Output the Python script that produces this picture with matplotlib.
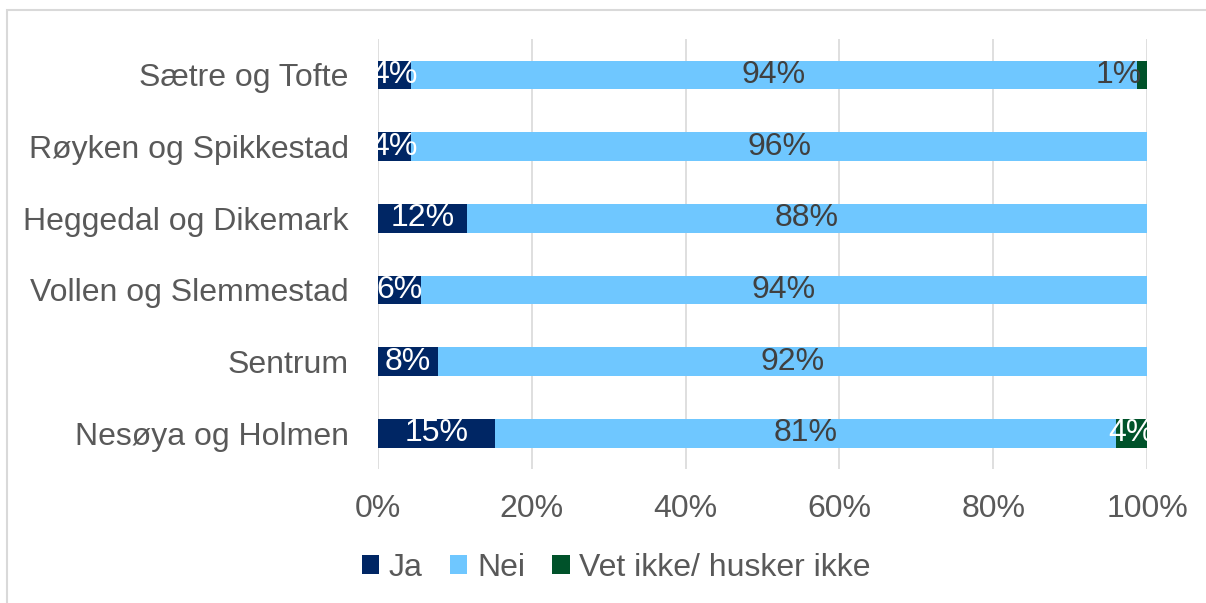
import matplotlib as mpl

mpl.use("Agg")

import matplotlib.pyplot as plt
from matplotlib.patches import Rectangle
import numpy as np

plt.rcParams["font.family"] = ["Liberation Sans", "DejaVu Sans"]

# Kategorier (nederst -> øverst)
omrader = [
    "Nesøya og Holmen",
    "Sentrum",
    "Vollen og Slemmestad",
    "Heggedal og Dikemark",
    "Røyken og Spikkestad",
    "Sætre og Tofte",
]
ja = [15.2, 7.8, 5.6, 11.6, 4.3, 4.3]
nei = [80.8, 92.2, 94.4, 88.4, 95.7, 94.4]
vet_ikke = [4.0, 0.0, 0.0, 0.0, 0.0, 1.3]

serier = ["Ja", "Nei", "Vet ikke/ husker ikke"]
farger = ["#002664", "#6FC7FF", "#00522A"]
tekstfarger = ["white", "#404040", "white"]

GRA = "#595959"
FS = 23

fig = plt.figure(figsize=(12.06, 6.03), dpi=100)
ax = fig.add_axes([0.3134, 0.2222, 0.9511 - 0.3134, 0.9353 - 0.2222])

# ramme rundt diagramområdet
fig.patches.append(
    Rectangle((7 / 1206, -0.1), 1.2, 1 - 10 / 603 + 0.1, transform=fig.transFigure,
              fill=False, edgecolor="#d9d9d9", linewidth=1.5, zorder=0)
)

y = np.arange(len(omrader))
venstre = np.zeros(len(omrader))
for navn, verdier, farge, tf in zip(serier, [ja, nei, vet_ikke], farger, tekstfarger):
    verdier = np.asarray(verdier)
    ax.barh(y, verdier, left=venstre, height=0.4, color=farge, label=navn, zorder=3)
    for yi, v, l in zip(y, verdier, venstre):
        if v <= 0:
            continue
        if v < 3 and navn != "Ja":
            ax.text(l + v / 2, yi, f"{v:.0f}%", ha="right", va="center",
                    fontsize=FS, color="#404040", zorder=4)
        else:
            ax.text(l + v / 2, yi, f"{v:.0f}%", ha="center", va="center",
                    fontsize=FS, color=tf, zorder=4)
    venstre = venstre + verdier

ax.set_xlim(0, 100)
ax.set_ylim(-0.5, len(omrader) - 0.5)
ax.set_xticks(np.arange(0, 101, 20))
ax.set_xticklabels([f"{t}%" for t in range(0, 101, 20)])
ax.set_yticks(y)
ax.set_yticklabels(omrader)
ax.tick_params(axis="both", length=0, labelsize=FS, labelcolor=GRA)
ax.tick_params(axis="x", pad=18)
ax.tick_params(axis="y", pad=21)
ax.xaxis.grid(True, color="#d9d9d9", linewidth=1.2, zorder=0)
ax.set_axisbelow(True)
for s in ax.spines.values():
    s.set_visible(False)

leg = fig.legend(
    loc="center", bbox_to_anchor=(0.511, 1 - 568 / 603), ncol=3, frameon=False,
    fontsize=FS, handlelength=0.55, handleheight=0.55, handletextpad=0.3,
    columnspacing=0.85,
)
for t in leg.get_texts():
    t.set_color(GRA)

fig.savefig("out.png", dpi=100, facecolor="white")
